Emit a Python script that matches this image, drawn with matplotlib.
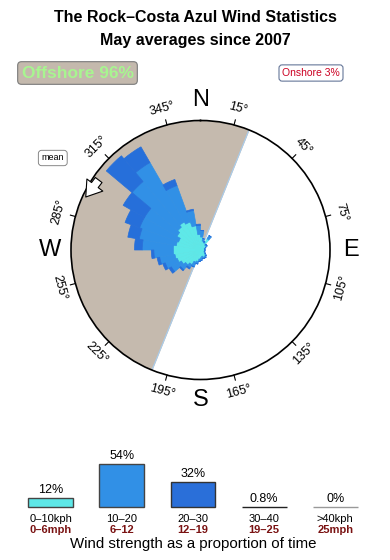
import numpy as np
import matplotlib
matplotlib.use("Agg")
import matplotlib.pyplot as plt

plt.rcParams['font.family'] = ['Liberation Sans', 'DejaVu Sans']

# wind rose: 10 degree sectors, lengths as fraction of the outer circle
dirs = np.arange(5, 360, 10)
spd_0_10 = [0.10, 0.07, 0.06, 0.10, 0.05, 0.05, 0.04, 0.03, 0.03, 0.03, 0.03, 0.03,
            0.04, 0.05, 0.06, 0.06, 0.05, 0.06, 0.07, 0.09, 0.10, 0.13, 0.15, 0.17,
            0.19, 0.20, 0.21, 0.21, 0.19, 0.18, 0.21, 0.23, 0.25, 0.23, 0.19, 0.12]
spd_10_20 = [0.05, 0.02, 0.01, 0.03, 0.01, 0.01, 0.005, 0.005, 0.005, 0.005, 0.005, 0.005,
             0.005, 0.01, 0.01, 0.01, 0.02, 0.02, 0.02, 0.02, 0.04, 0.03, 0.05, 0.09,
             0.10, 0.12, 0.15, 0.24, 0.29, 0.32, 0.29, 0.46, 0.53, 0.30, 0.12, 0.07]
spd_20_30 = [0, 0, 0, 0, 0, 0, 0, 0, 0, 0, 0, 0,
             0, 0, 0, 0, 0, 0, 0, 0, 0, 0.01, 0.01, 0.02,
             0.02, 0.02, 0.02, 0.06, 0.09, 0.12, 0.19, 0.26, 0.14, 0.05, 0.01, 0.01]
rose_colors = ['#5ee8e8', '#3190e6', '#266fda']

offshore_from, offshore_to = 202, 382   # shaded offshore half
tick_deg = [15, 45, 75, 105, 135, 165, 195, 225, 255, 285, 315, 345]
compass = ['N', 'E', 'S', 'W']

# strength histogram
kph = ['0–10kph', '10–20', '20–30', '30–40', '>40kph']
mph = ['0–6mph', '6–12', '12–19', '19–25', '25mph']
pct = [12, 54, 32, 0.8, 0]
pct_txt = ['12%', '54%', '32%', '0.8%', '0%']
bar_fc = ['#5ee8e8', '#3190e6', '#2a6fd9', 'none', 'none']
bar_ec = ['#444444', '#444444', '#333333', '#222222', '#999999']

W, H = 390, 560
fig = plt.figure(figsize=(3.9, 5.6), dpi=100)

fig.text(195 / W, 1 - 17 / H, 'The Rock–Costa Azul Wind Statistics', ha='center', va='center',
         fontsize=11.5, fontweight='bold')
fig.text(195 / W, 1 - 41 / H, 'May averages since 2007', ha='center', va='center',
         fontsize=11.5, fontweight='bold')
fig.text(77.5 / W, 1 - 73 / H, 'Offshore 96%', ha='center', va='center', fontsize=12.5,
         fontweight='bold', color='#a8f590',
         bbox=dict(boxstyle='round,pad=0.22', fc='#c4b9ad', ec='#7a7a7a', lw=0.8))
fig.text(311 / W, 1 - 73 / H, 'Onshore 3%', ha='center', va='center', fontsize=7.5,
         color='#cc0022', bbox=dict(boxstyle='round,pad=0.3', fc='white', ec='#667799', lw=0.8))
fig.text(52.8 / W, 1 - 158 / H, 'mean', ha='center', va='center', fontsize=6.5,
         bbox=dict(boxstyle='round,pad=0.35', fc='white', ec='#888888', lw=0.7))

# ---- rose
cx, cy, R = 200.5, 250, 129.5
ax = fig.add_axes([(cx - R) / W, (H - cy - R) / H, 2 * R / W, 2 * R / H], projection='polar')
ax.set_theta_zero_location('N')
ax.set_theta_direction(-1)
ax.set_ylim(0, 1)
ax.grid(False)
ax.set_xticks([])
ax.set_yticks([])
ax.spines['polar'].set_linewidth(1.2)

th = np.radians(np.linspace(offshore_from, offshore_to, 300))
ax.fill_between(th, 0, 1, color='#c5baae', lw=0, zorder=1)
for a in (offshore_from, offshore_to):
    ax.plot([np.radians(a)] * 2, [0, 1], color='#a8cdee', lw=0.8, zorder=1.5)

t = np.radians(dirs)
bottom = np.zeros(len(dirs))
for vals, c in zip([spd_0_10, spd_10_20, spd_20_30], rose_colors):
    ax.bar(t, vals, width=np.radians(10), bottom=bottom, color=c, edgecolor=c,
           lw=0.5, zorder=2)
    bottom = bottom + np.array(vals)

for d in tick_deg:
    a = np.radians(d)
    ax.plot([a, a], [1.0, 1.04], color='black', lw=0.8, clip_on=False)
    rot = -d
    while rot <= -90:
        rot += 180
    while rot > 90:
        rot -= 180
    ax.text(a, 1.13, f'{d}°', ha='center', va='center', rotation=rot,
            rotation_mode='anchor', fontsize=9)
for i, lab in enumerate(compass):
    ax.text(np.radians(i * 90), 1.16, lab, ha='center', va='center', fontsize=17)

ax.annotate('', xy=(np.radians(294.8), 0.976), xytext=(np.radians(304.5), 0.954),
            arrowprops=dict(arrowstyle='simple,head_width=1.2,head_length=0.9,tail_width=0.5',
                            fc='white', ec='black', lw=0.8, shrinkA=0, shrinkB=0,
                            mutation_scale=12), zorder=5)

# ---- strength bars
base = 507.3
ax2 = fig.add_axes([15.15 / W, (H - base) / H, 355.8 / W, 48 / H])
ax2.set_xlim(-0.5, 4.5)
ax2.set_ylim(0, 60)
ax2.axis('off')
x = np.arange(len(pct))
ax2.bar(x, pct, width=0.63, color=bar_fc, edgecolor=bar_ec, lw=1.0, clip_on=False)
for i in range(len(pct)):
    ax2.annotate(pct_txt[i], (i, pct[i]), xytext=(0, 5), textcoords='offset pixels',
                 ha='center', va='baseline', fontsize=9)
    ax2.annotate(kph[i], (i, 0), xytext=(0, -14.5), textcoords='offset pixels',
                 ha='center', va='baseline', fontsize=8)
    ax2.annotate(mph[i], (i, 0), xytext=(0, -25.5), textcoords='offset pixels',
                 ha='center', va='baseline', fontsize=8, fontweight='bold', color='#7a1212')

fig.text(193.3 / W, 1 - 548.3 / H, 'Wind strength as a proportion of time', ha='center',
         va='baseline', fontsize=10.8)

fig.savefig('out.png', dpi=100)
